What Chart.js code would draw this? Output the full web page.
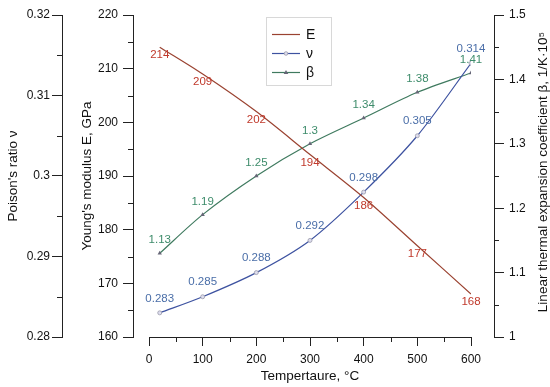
<!DOCTYPE html>
<html><head><meta charset="utf-8">
<script src="https://cdn.jsdelivr.net/npm/chart.js@4"></script>
<style>html,body{margin:0;padding:0;background:#fff}#wrap{width:550px;height:387px}</style>
</head><body><div id="wrap"><canvas id="c" width="550" height="387"></canvas></div>
<script>
const temperatures = [20, 100, 200, 300, 400, 500, 600];
const youngE = [214, 209, 202, 194, 186, 177, 168];
const poissonNu = [0.283, 0.285, 0.288, 0.292, 0.298, 0.305, 0.314];
const betaCoef = [1.13, 1.19, 1.25, 1.3, 1.34, 1.38, 1.41];
const seriesNames = ['E', 'ν', 'β'];
const xTitle = 'Tempertaure, °C';
const yTitles = ["Poison's ratio ν", "Young's modulus E, GPa", 'Linear thermal expansion coefficient β, 1/K·10⁵'];

const FONT = '"Liberation Sans", Arial, sans-serif';
const cE = '#9a4230', cEl = '#c0392b';
const cN = '#3d52a0', cNl = '#4a6ea8';
const cB = '#3f7a5f', cBl = '#3e8c6b';

const labelOffsets = [8, -14.5, -13];
const labelColors = [cEl, cNl, cBl];

const minorTicks = {
  id: 'minorTicks',
  afterDraw(chart) {
    const ctx = chart.ctx;
    ctx.save();
    ctx.strokeStyle = '#222';
    ctx.lineWidth = 1;
    const s = chart.scales;
    const x = s.x;
    for (let v = 50; v < 600; v += 100) {
      const px = Math.round(x.getPixelForValue(v)) + 0.5;
      ctx.beginPath(); ctx.moveTo(px, x.top); ctx.lineTo(px, x.top + 5); ctx.stroke();
    }
    const doY = (sc, vals, side) => {
      vals.forEach(v => {
        const py = Math.round(sc.getPixelForValue(v)) + 0.5;
        ctx.beginPath();
        if (side === 'left') { ctx.moveTo(sc.right, py); ctx.lineTo(sc.right - 5, py); }
        else { ctx.moveTo(sc.left, py); ctx.lineTo(sc.left + 5, py); }
        ctx.stroke();
      });
    };
    doY(s.yNu, [0.285, 0.295, 0.305, 0.315], 'left');
    doY(s.yE, [165, 175, 185, 195, 205, 215], 'left');
    doY(s.yB, [1.05, 1.15, 1.25, 1.35, 1.45], 'right');

    ctx.fillStyle = '#111';
    ctx.textAlign = 'center';
    ctx.textBaseline = 'middle';
    const midY = (chart.chartArea.top + chart.chartArea.bottom) / 2;
    const drawRot = (txt, px, py) => {
      ctx.save(); ctx.translate(px, py); ctx.rotate(-Math.PI / 2); ctx.fillText(txt, 0, 0); ctx.restore();
    };
    ctx.font = '13.5px ' + FONT;
    drawRot(yTitles[0], 13, midY);
    drawRot(yTitles[1], 87, midY);
    drawRot(yTitles[2], 543, midY - 4);
    ctx.fillText(xTitle, (chart.chartArea.left + chart.chartArea.right) / 2, 376);

    ctx.font = '11.5px ' + FONT;
    chart.data.datasets.forEach((ds, di) => {
      const meta = chart.getDatasetMeta(di);
      ctx.fillStyle = labelColors[di];
      meta.data.forEach((pt, i) => {
        ctx.fillText(String(ds.data[i]), pt.x, pt.y + labelOffsets[di]);
      });
    });

    const lx = 266, ly = 17, lw = 65, lh = 68;
    ctx.fillStyle = '#fff';
    ctx.fillRect(lx, ly, lw, lh);
    ctx.strokeStyle = '#d8d8d8';
    ctx.strokeRect(lx + 0.5, ly + 0.5, lw, lh);
    const rows = [34, 52.5, 71.5];
    chart.data.datasets.forEach((ds, di) => {
      const yy = Math.round(rows[di]) + 0.5;
      ctx.strokeStyle = ds.borderColor;
      ctx.lineWidth = 1.2;
      ctx.beginPath(); ctx.moveTo(272, yy); ctx.lineTo(300, yy); ctx.stroke();
      if (di === 1) {
        ctx.fillStyle = '#dde'; ctx.strokeStyle = '#99a';
        ctx.lineWidth = 0.8;
        ctx.beginPath(); ctx.arc(286, yy, 1.8, 0, Math.PI * 2); ctx.fill(); ctx.stroke();
      } else if (di === 2) {
        ctx.fillStyle = '#667';
        ctx.beginPath(); ctx.moveTo(286, yy - 2.5); ctx.lineTo(288.3, yy + 1.5); ctx.lineTo(283.7, yy + 1.5); ctx.closePath(); ctx.fill();
      }
      ctx.fillStyle = '#111';
      ctx.font = '14px ' + FONT;
      ctx.textAlign = 'left';
      ctx.fillText(ds.label, 306, yy + 0.5);
    });
    ctx.restore();
  }
};

const tickFont = { family: FONT, size: 12 };
const axisBase = (extra) => Object.assign({
  type: 'linear',
  grid: { drawOnChartArea: false, drawTicks: true, tickLength: 10, color: '#222', tickColor: '#222' },
  border: { display: true, color: '#222', width: 1 },
  ticks: { color: '#111', font: tickFont, padding: 2 }
}, extra);

new Chart(document.getElementById('c'), {
  type: 'line',
  data: {
    labels: temperatures,
    datasets: [
      { label: seriesNames[0], data: youngE, yAxisID: 'yE', borderColor: cE, borderWidth: 1.2,
        pointRadius: 0, tension: 0.3, fill: false },
      { label: seriesNames[1], data: poissonNu, yAxisID: 'yNu', borderColor: cN, borderWidth: 1.2,
        pointRadius: 2, pointBackgroundColor: '#dde', pointBorderColor: '#99a', pointBorderWidth: 0.8,
        tension: 0.3, fill: false },
      { label: seriesNames[2], data: betaCoef, yAxisID: 'yB', borderColor: cB, borderWidth: 1.2,
        pointStyle: 'triangle', pointRadius: 2.5, pointBackgroundColor: '#667', pointBorderColor: '#667',
        pointBorderWidth: 0, tension: 0.3, fill: false }
    ]
  },
  options: {
    responsive: false,
    animation: false,
    events: [],
    layout: { padding: { top: 15, left: 0, right: 0, bottom: 0 } },
    plugins: { legend: { display: false }, tooltip: { enabled: false } },
    scales: {
      x: {
        type: 'linear', position: 'bottom', min: 0, max: 600,
        grid: { drawOnChartArea: false, drawTicks: true, tickLength: 9, color: '#222', tickColor: '#222', offset: false },
        border: { display: true, color: '#222' },
        ticks: { stepSize: 100, color: '#111', font: tickFont, padding: 6, maxRotation: 0 },
        afterFit(s) { s.height = 50; }
      },
      yNu: axisBase({
        position: 'left', weight: 10, min: 0.28, max: 0.32,
        ticks: { color: '#111', font: tickFont, padding: 2, stepSize: 0.01, callback: v => String(+v.toFixed(2)) },
        afterFit(s) { s.width = 62; }
      }),
      yE: axisBase({
        position: 'left', weight: 5, min: 160, max: 220,
        ticks: { color: '#111', font: tickFont, padding: 5, stepSize: 10 },
        afterFit(s) { s.width = 71; }
      }),
      spL: {
        type: 'linear', position: 'left', weight: 1, display: true,
        grid: { display: false }, border: { display: false }, ticks: { display: false },
        afterFit(s) { s.width = 16; }
      },
      spR: {
        type: 'linear', position: 'right', weight: 1, display: true,
        grid: { display: false }, border: { display: false }, ticks: { display: false },
        afterFit(s) { s.width = 23; }
      },
      yB: axisBase({
        position: 'right', weight: 5, min: 1, max: 1.5,
        ticks: { color: '#111', font: tickFont, padding: 5, stepSize: 0.1, callback: v => String(+v.toFixed(1)) },
        afterFit(s) { s.width = 56; }
      })
    }
  },
  plugins: [minorTicks]
});
</script>
</body></html>
